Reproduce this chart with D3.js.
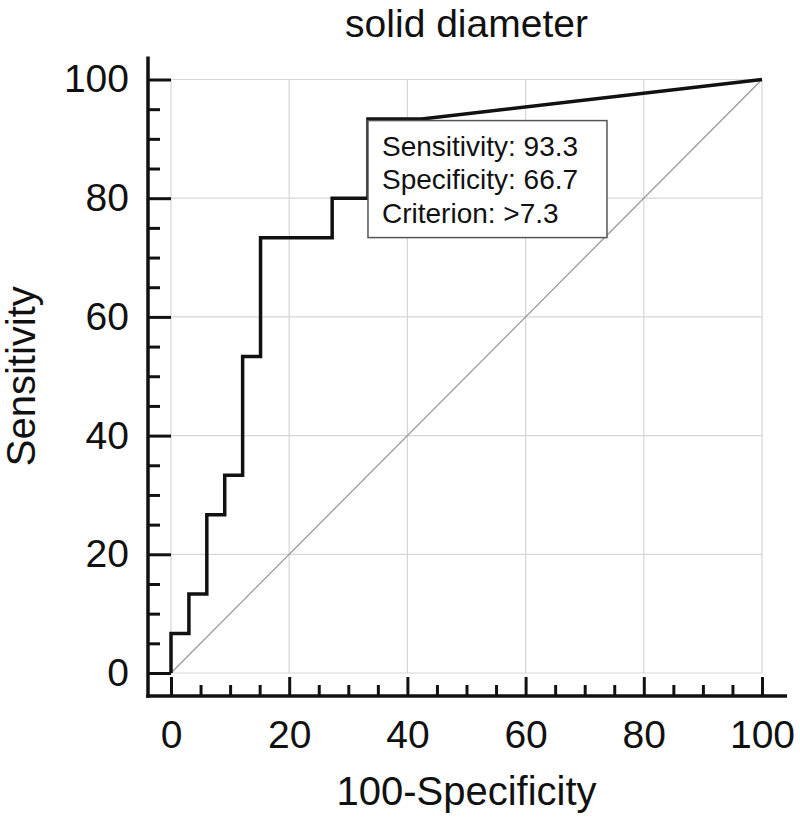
<!DOCTYPE html>
<html>
<head>
<meta charset="utf-8">
<script src="https://cdn.jsdelivr.net/npm/d3@7"></script>
<style>
    body { margin: 0; background: #fff; }
    svg { display: block; font-family: "Liberation Sans", Arial, sans-serif; }
</style>
</head>
<body>
<div class="chart"></div>
<script>
// ROC points: 100-Specificity (x) and Sensitivity (y)
const fpr = [0, 0, 3.03, 3.03, 6.06, 6.06, 9.09, 9.09, 12.12, 12.12, 15.15, 15.15, 27.27, 27.27, 33.33, 33.33, 42.42, 100];
const tpr = [0, 6.67, 6.67, 13.33, 13.33, 26.67, 26.67, 33.33, 33.33, 53.33, 53.33, 73.33, 73.33, 80, 80, 93.33, 93.33, 100];

const majorTicks = [0, 20, 40, 60, 80, 100];
const minorTicks = [5, 10, 15, 25, 30, 35, 45, 50, 55, 65, 70, 75, 85, 90, 95];

// optimal cut-off shown in the box
const cutoff = {x: 33.33, y: 93.33};
const boxLines = ["Sensitivity: 93.3", "Specificity: 66.7", "Criterion: >7.3"];

const chartTitle = "solid diameter";
const xTitle = "100-Specificity";
const yTitle = "Sensitivity";

document.addEventListener('DOMContentLoaded', function () {
    drawChart();
});

function drawChart() {
    const width = 800, height = 819;
    const gap = 23;      // distance between plot area and axis lines

    const x = d3.scaleLinear().domain([0, 100]).range([171, 762]);
    const y = d3.scaleLinear().domain([0, 100]).range([673, 79.5]);

    const axisX = x(0) - gap;   // left axis line position
    const axisY = y(0) + gap;   // bottom axis line position

    const svg = d3.select('.chart')
        .append("svg")
            .attr("width", width)
            .attr("height", height);

    // grid
    const grid = svg.append("g").attr("stroke", "#d6d6d6").attr("stroke-width", 1.2);
    grid.selectAll(".gx").data(majorTicks).join("line")
        .attr("x1", d => x(d)).attr("x2", d => x(d))
        .attr("y1", y(0)).attr("y2", y(100));
    grid.selectAll(".gy").data(majorTicks).join("line")
        .attr("x1", x(0)).attr("x2", x(100))
        .attr("y1", d => y(d)).attr("y2", d => y(d));

    // reference diagonal
    svg.append("line")
        .attr("x1", x(0)).attr("y1", y(0))
        .attr("x2", x(100)).attr("y2", y(100))
        .attr("stroke", "#9a9a9a")
        .attr("stroke-width", 1.3);

    // ROC curve
    const pts = fpr.map((v, i) => [v, tpr[i]]);
    svg.append("path")
        .datum(pts)
        .attr("fill", "none")
        .attr("stroke", "#111")
        .attr("stroke-width", 3.5)
        .attr("stroke-linejoin", "miter")
        .attr("d", d3.line()
            .x(d => x(d[0]))
            .y(d => y(d[1]))
        );

    // annotation box anchored at the cut-off point
    const bx = x(cutoff.x), by = y(cutoff.y) + 1.5;
    svg.append("rect")
        .attr("x", bx).attr("y", by)
        .attr("width", 239).attr("height", 117)
        .attr("fill", "#fff")
        .attr("stroke", "#555")
        .attr("stroke-width", 1.5);
    svg.append("g").selectAll("text").data(boxLines).join("text")
        .attr("x", bx + 14)
        .attr("y", (d, i) => by + 35 + i * 33.5)
        .attr("font-size", 28)
        .attr("fill", "#111")
        .text(d => d);

    // axes
    const yAxis = svg.append("g").attr("transform", "translate(" + axisX + ",0)");
    yAxis.call(d3.axisLeft(y).tickValues(majorTicks).tickSizeInner(-gap).tickSizeOuter(0).tickPadding(19));
    yAxis.append("g").call(d3.axisLeft(y).tickValues(minorTicks).tickSizeInner(-12).tickSizeOuter(0).tickFormat(""));

    const xAxis = svg.append("g").attr("transform", "translate(0," + axisY + ")");
    xAxis.call(d3.axisBottom(x).tickValues(majorTicks).tickSizeInner(-gap + 4).tickSizeOuter(0).tickPadding(24));
    xAxis.append("g").call(d3.axisBottom(x).tickValues(minorTicks).tickSizeInner(-11).tickSizeOuter(0).tickFormat(""));

    svg.selectAll(".domain").remove();
    svg.selectAll(".tick line").attr("stroke", "#111").attr("stroke-width", 3);
    svg.selectAll(".tick text")
        .attr("font-size", 39)
        .attr("font-family", "Liberation Sans, Arial, sans-serif")
        .attr("fill", "#111");

    // axis lines, running a little past the plot area
    svg.append("line")
        .attr("x1", axisX).attr("x2", axisX)
        .attr("y1", y(100) - gap).attr("y2", axisY + 1.75)
        .attr("stroke", "#111").attr("stroke-width", 3.5);
    svg.append("line")
        .attr("x1", axisX - 1.75).attr("x2", x(100) + gap + 2)
        .attr("y1", axisY).attr("y2", axisY)
        .attr("stroke", "#111").attr("stroke-width", 3.5);

    // titles
    svg.append("text")
        .attr("x", (x(0) + x(100)) / 2).attr("y", 37)
        .attr("text-anchor", "middle")
        .attr("font-size", 39).attr("fill", "#111")
        .text(chartTitle);
    svg.append("text")
        .attr("x", (x(0) + x(100)) / 2).attr("y", 805)
        .attr("text-anchor", "middle")
        .attr("font-size", 40).attr("fill", "#111")
        .text(xTitle);
    svg.append("text")
        .attr("transform", "translate(35," + (y(0) + y(100)) / 2 + ") rotate(-90)")
        .attr("text-anchor", "middle")
        .attr("font-size", 40).attr("fill", "#111")
        .text(yTitle);
}
</script>
</body>
</html>
